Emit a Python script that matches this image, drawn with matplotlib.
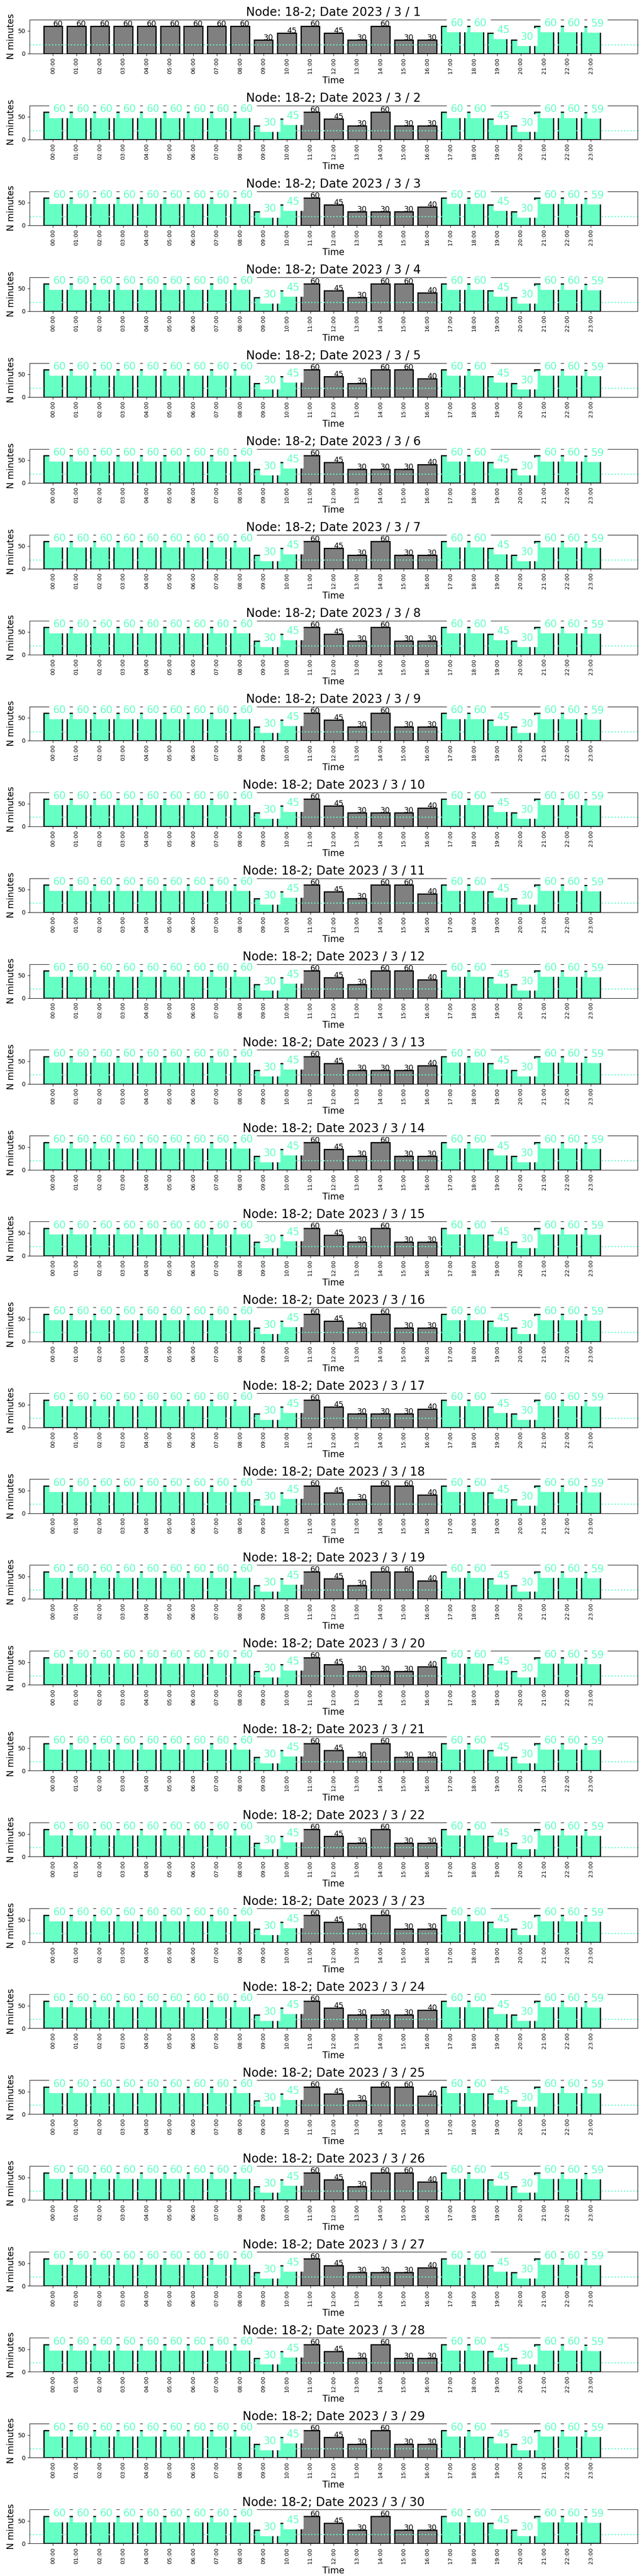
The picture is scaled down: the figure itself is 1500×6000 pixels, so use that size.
import matplotlib
matplotlib.use('Agg')
import matplotlib.pyplot as plt
import numpy as np

NODE = '18-2'
YEAR, MONTH = 2023, 3
days = list(range(1, 31))
hours = [f'{h:02d}:00' for h in range(24)]

# minutes per hour that are the same every day
early = [60, 60, 60, 60, 60, 60, 60, 60, 60, 30, 45, 60, 45]  # 00:00 - 12:00
late = [60, 60, 45, 30, 60, 60, 59]                            # 17:00 - 23:00

# 13:00 - 16:00, one row per day
afternoon = [
    [30, 60, 30, 30], [30, 60, 30, 30], [30, 30, 30, 40], [30, 60, 60, 40],
    [30, 60, 60, 40], [30, 30, 30, 40], [30, 60, 30, 30], [30, 60, 30, 30],
    [30, 60, 30, 30], [30, 30, 30, 40], [30, 60, 60, 40], [30, 60, 60, 40],
    [30, 30, 30, 40], [30, 60, 30, 30], [30, 60, 30, 30], [30, 60, 30, 30],
    [30, 30, 30, 40], [30, 60, 60, 40], [30, 60, 60, 40], [30, 30, 30, 40],
    [30, 60, 30, 30], [30, 60, 30, 30], [30, 60, 30, 30], [30, 30, 30, 40],
    [30, 60, 60, 40], [30, 60, 60, 40], [30, 30, 30, 40], [30, 60, 30, 30],
    [30, 60, 30, 30], [30, 60, 30, 30],
]

# hours drawn grey (normal) run from gray_start to gray_end, the rest are highlighted
gray_start = [0] + [11] * 29
gray_end = 16

threshold = 20

GREY = 'grey'
AQUA = '#66FFC4'

fig, axes = plt.subplots(len(days), 1, figsize=(15, 60), dpi=100)
plt.subplots_adjust(left=0.046, right=0.99, top=0.9924, bottom=0.0126, hspace=1.53)

x = np.arange(len(hours))
for d, ax in enumerate(axes):
    vals = early + afternoon[d] + late
    is_gray = [(gray_start[d] <= h <= gray_end) for h in range(24)]
    colors = [GREY if g else AQUA for g in is_gray]
    ax.bar(x, vals, width=0.8, color=colors, edgecolor='black', linewidth=2)
    ax.axhline(threshold, color=AQUA, linestyle=':', linewidth=2, zorder=2.2)
    for i, v in enumerate(vals):
        if is_gray[i]:
            ax.text(x[i], v, str(v), color='black', fontsize=13)
        else:
            ax.text(x[i], v, str(v), color=AQUA, fontsize=17,
                    bbox=dict(facecolor='white', edgecolor='white', pad=5.8))
    ax.set_xlim(-1, 25)
    ax.set_ylim(0, 75)
    ax.set_yticks([0, 50])
    ax.set_xticks(x)
    ax.set_xticklabels(hours, rotation=90, fontsize=9.5)
    ax.tick_params(axis='y', labelsize=10)
    ax.set_ylabel('N minutes', fontsize=15)
    ax.set_xlabel('Time', fontsize=15)
    ax.set_title(f'Node: {NODE}; Date {YEAR} / {MONTH} / {days[d]}', fontsize=20)

plt.savefig('out.png', dpi=100)
